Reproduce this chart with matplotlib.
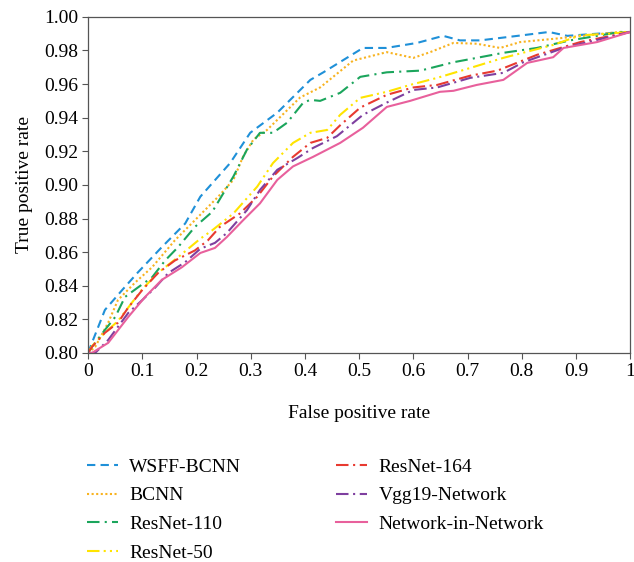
import matplotlib
matplotlib.use("Agg")
import matplotlib.pyplot as plt

plt.rcParams['font.family'] = ['Liberation Serif', 'DejaVu Serif']

# ROC curves
wsff_x = [0, 0.007, 0.031, 0.063, 0.092, 0.136, 0.179, 0.207, 0.262, 0.299, 0.349, 0.41, 0.434,
          0.507, 0.55, 0.607, 0.655, 0.686, 0.723, 0.80, 0.85, 0.884, 0.94, 1.0]
wsff_y = [0.800, 0.806, 0.8256, 0.8375, 0.848, 0.863, 0.877, 0.893, 0.913, 0.931, 0.943, 0.9625, 0.967,
          0.9815, 0.9815, 0.9845, 0.9887, 0.986, 0.986, 0.989, 0.991, 0.9887, 0.990, 0.991]

bcnn_x = [0, 0.013, 0.037, 0.055, 0.087, 0.118, 0.16, 0.197, 0.24, 0.268, 0.286, 0.305, 0.33, 0.391,
          0.428, 0.489, 0.551, 0.6, 0.631, 0.674, 0.717, 0.76, 0.797, 0.877, 0.98, 1.0]
bcnn_y = [0.800, 0.8036, 0.818, 0.8315, 0.842, 0.851, 0.867, 0.879, 0.893, 0.903, 0.917, 0.927, 0.9327, 0.952,
          0.958, 0.974, 0.979, 0.9756, 0.979, 0.9845, 0.984, 0.9815, 0.985, 0.9875, 0.991, 0.991]

r110_x = [0, 0.007, 0.031, 0.05, 0.068, 0.092, 0.118, 0.142, 0.166, 0.197, 0.229, 0.268, 0.293, 0.317,
          0.341, 0.367, 0.397, 0.41, 0.428, 0.465, 0.502, 0.551, 0.613, 0.674, 0.717, 0.766, 0.828,
          0.889, 0.982, 1.0]
r110_y = [0.800, 0.8036, 0.8137, 0.8214, 0.8333, 0.839, 0.845, 0.855, 0.863, 0.875, 0.884, 0.905, 0.921, 0.931,
          0.931, 0.937, 0.949, 0.9506, 0.950, 0.9548, 0.9643, 0.967, 0.968, 0.973, 0.9756, 0.9786, 0.9815,
          0.986, 0.991, 0.991]

r50_x = [0, 0.007, 0.031, 0.055, 0.1, 0.13, 0.166, 0.207, 0.229, 0.268, 0.312, 0.341, 0.378, 0.41,
         0.441, 0.465, 0.502, 0.551, 0.594, 0.644, 0.705, 0.766, 0.858, 0.908, 0.96, 1.0]
r50_y = [0.800, 0.804, 0.812, 0.819, 0.838, 0.848, 0.857, 0.868, 0.873, 0.883, 0.899, 0.913, 0.925, 0.931,
         0.9327, 0.9417, 0.9518, 0.9554, 0.9595, 0.9637, 0.9696, 0.9756, 0.9833, 0.989, 0.990, 0.991]

r164_x = [0, 0.007, 0.031, 0.055, 0.074, 0.1, 0.129, 0.16, 0.197, 0.221, 0.243, 0.28, 0.312, 0.341,
          0.378, 0.41, 0.441, 0.465, 0.502, 0.551, 0.6, 0.644, 0.705, 0.755, 0.828, 0.908, 1.0]
r164_y = [0.800, 0.8036, 0.812, 0.818, 0.827, 0.8375, 0.8476, 0.855, 0.861, 0.867, 0.875, 0.883, 0.893, 0.905,
          0.9167, 0.925, 0.928, 0.9355, 0.946, 0.9536, 0.958, 0.9595, 0.965, 0.968, 0.9774, 0.985, 0.991]

vgg_x = [0, 0.013, 0.037, 0.074, 0.1, 0.124, 0.148, 0.179, 0.207, 0.234, 0.256, 0.293, 0.317, 0.349,
         0.386, 0.415, 0.459, 0.507, 0.551, 0.6, 0.644, 0.705, 0.766, 0.803, 0.877, 1.0]
vgg_y = [0.800, 0.800, 0.8077, 0.8238, 0.8315, 0.839, 0.8476, 0.854, 0.862, 0.8655, 0.8714, 0.885, 0.897, 0.909,
         0.916, 0.922, 0.929, 0.9417, 0.949, 0.9565, 0.958, 0.9637, 0.9667, 0.973, 0.9815, 0.991]

nin_x = [0, 0.007, 0.037, 0.074, 0.105, 0.136, 0.173, 0.207, 0.234, 0.256, 0.286, 0.317, 0.349, 0.378,
         0.415, 0.465, 0.507, 0.551, 0.594, 0.649, 0.674, 0.717, 0.766, 0.81, 0.858, 0.877, 0.939, 1.0]
nin_y = [0.800, 0.800, 0.806, 0.8214, 0.8333, 0.8435, 0.851, 0.8595, 0.8625, 0.869, 0.879, 0.889, 0.903, 0.911,
         0.9167, 0.925, 0.934, 0.9464, 0.950, 0.9554, 0.956, 0.9595, 0.9625, 0.9726, 0.976, 0.9815, 0.985, 0.991]

labels = ['WSFF-BCNN', 'BCNN', 'ResNet-110', 'ResNet-50', 'ResNet-164', 'Vgg19-Network', 'Network-in-Network']
x_ticks = [0, 0.1, 0.2, 0.3, 0.4, 0.5, 0.6, 0.7, 0.8, 0.9, 1]
x_tick_labels = ['0', '0.1', '0.2', '0.3', '0.4', '0.5', '0.6', '0.7', '0.8', '0.9', '1']
y_ticks = [0.80, 0.82, 0.84, 0.86, 0.88, 0.90, 0.92, 0.94, 0.96, 0.98, 1.00]

series = [
    (wsff_x, wsff_y, '#1f90d8', (4, 2.5)),
    (bcnn_x, bcnn_y, '#f8b320', (1, 1.2)),
    (r110_x, r110_y, '#1ba55c', (6, 2.5, 1, 2.5)),
    (r50_x, r50_y, '#ffe400', (6, 2, 1, 2, 1, 2)),
    (r164_x, r164_y, '#e83a30', (6, 2.2, 1, 2.2)),
    (vgg_x, vgg_y, '#7e3f9f', (6, 2.2, 1, 2.2)),
    (nin_x, nin_y, '#e8609c', None),
]

fig = plt.figure(figsize=(6.34, 5.62), dpi=100)
ax = fig.add_axes([0.139, 0.372, 0.855, 0.598])

for (xs, ys, color, dashes), label in zip(series, labels):
    line, = ax.plot(xs, ys, color=color, lw=1.5, label=label)
    if dashes is not None:
        line.set_dashes(dashes)

ax.set_xlim(0, 1)
ax.set_ylim(0.8, 1.0)
ax.set_xticks(x_ticks)
ax.set_xticklabels(x_tick_labels)
ax.set_yticks(y_ticks)
ax.set_yticklabels(['%.2f' % v for v in y_ticks])
ax.tick_params(direction='out', length=4, width=0.8, color='#555555', labelsize=14, pad=3)
for s in ax.spines.values():
    s.set_color('#555555')
    s.set_linewidth(0.9)

ax.set_xlabel('False positive rate', fontsize=14, labelpad=18)
ax.set_ylabel('True positive rate', fontsize=14, labelpad=8)

fig.legend(loc='upper left', bbox_to_anchor=(0.109, 0.216), ncol=2, frameon=False,
           fontsize=14, handlelength=1.6, handletextpad=0.6, labelspacing=0.57,
           columnspacing=4.86)

fig.savefig('out.png', dpi=100)
